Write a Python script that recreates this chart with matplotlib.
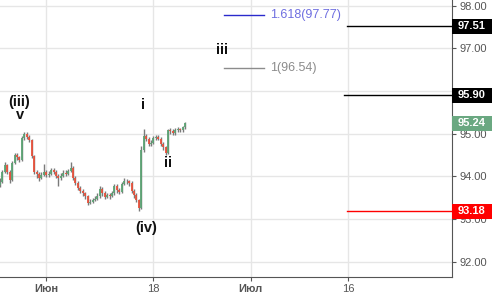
import numpy as np
import matplotlib
matplotlib.use("Agg")
import matplotlib.pyplot as plt
from matplotlib.patches import Rectangle
import matplotlib.transforms as mtransforms

plt.rcParams['font.family'] = ['Liberation Sans', 'DejaVu Sans']

# price data: 4 bars per trading day, day 0 = 1 June
start_day = -4.75
bar_step = 0.25
first_open = 93.80
closes = [93.87, 94.11, 94.27, 94.11, 93.92, 94.32, 94.50, 94.45, 94.39, 94.90,
          95.00, 94.93, 94.85, 94.48, 94.11, 94.06, 93.97, 94.04, 94.11, 94.04,
          94.06, 94.15, 94.11, 94.01, 93.97, 94.01, 94.08, 94.06, 94.13, 94.20,
          93.97, 93.85, 93.73, 93.66, 93.61, 93.54, 93.38, 93.40, 93.45, 93.47,
          93.54, 93.71, 93.61, 93.52, 93.57, 93.54, 93.61, 93.78, 93.68, 93.64,
          93.82, 93.89, 93.89, 93.85, 93.66, 93.57, 93.45, 93.26, 94.62, 94.95,
          94.88, 94.76, 94.78, 94.90, 94.93, 94.88, 94.76, 94.69, 94.55, 95.09,
          95.07, 95.02, 95.09, 95.11, 95.09, 95.16, 95.24]
highs = [93.95, 94.15, 94.33, 94.30, 94.15, 94.36, 94.55, 94.55, 94.48, 94.95,
         95.05, 95.03, 94.97, 94.88, 94.50, 94.15, 94.10, 94.10, 94.30, 94.15,
         94.12, 94.20, 94.20, 94.14, 94.05, 94.08, 94.14, 94.14, 94.18, 94.34,
         94.24, 94.00, 93.88, 93.78, 93.70, 93.63, 93.57, 93.47, 93.50, 93.55,
         93.60, 93.78, 93.75, 93.66, 93.62, 93.60, 93.66, 93.82, 93.83, 93.72,
         93.87, 93.95, 93.94, 93.92, 93.88, 93.70, 93.60, 93.48, 94.70, 95.10,
         95.00, 94.92, 94.84, 94.95, 94.98, 94.97, 94.92, 94.80, 94.72, 95.12,
         95.14, 95.10, 95.13, 95.16, 95.14, 95.19, 95.27]
lows = [93.75, 93.85, 94.08, 94.05, 93.85, 93.90, 94.28, 94.38, 94.33, 94.35,
        94.85, 94.88, 94.80, 94.42, 94.05, 93.95, 93.88, 93.94, 94.00, 93.98,
        93.99, 94.02, 94.06, 93.95, 93.78, 93.92, 93.98, 94.00, 94.02, 94.10,
        93.92, 93.80, 93.68, 93.60, 93.55, 93.48, 93.34, 93.35, 93.38, 93.42,
        93.44, 93.50, 93.55, 93.46, 93.50, 93.48, 93.52, 93.56, 93.62, 93.58,
        93.60, 93.80, 93.82, 93.78, 93.60, 93.50, 93.40, 93.18, 93.24, 94.58,
        94.82, 94.70, 94.72, 94.75, 94.86, 94.84, 94.70, 94.62, 94.50, 94.52,
        95.00, 94.96, 94.98, 95.05, 95.04, 95.05, 95.12]

# x axis ticks (trading-day index)
tick_days = [0, 11, 21, 31]
tick_labels = ["Июн", "18", "Июл", "16"]
price_ticks = [92, 93, 94, 95, 96, 97, 98]
price_tick_labels = ["92.00", "93.00", "94.00", "95.00", "", "97.00", "98.00"]

# levels
fib_levels = [97.77, 96.54]
fib_labels = ["1.618(97.77)", "1(96.54)"]
fib_colors = ["#2a2acc", "#8c8c8c"]
fib_text_colors = ["#6e6ee0", "#8c8c8c"]
fib_span = (18.2, 22.3)
hlines = [97.51, 95.90, 93.18]
hline_colors = ["black", "black", "#ff0000"]
hline_start = [30.9, 30.6, 30.9]
last_price = 95.24

wave_labels = [("(iii)", -2.8, 95.73), ("v", -2.7, 95.43), ("i", 9.9, 95.66),
               ("ii", 12.5, 94.31), ("(iv)", 10.3, 92.79), ("iii", 18.0, 96.96)]

closes = np.array(closes)
highs = np.array(highs)
lows = np.array(lows)
opens = np.concatenate([[first_open], closes[:-1]])
xs = start_day + bar_step * np.arange(len(closes))

fig = plt.figure(figsize=(4.97, 2.96), dpi=100)
ax = fig.add_axes([0, 19.3 / 296, 452.3 / 497, 1 - 19.3 / 296])
ax.set_xlim(-4.75, 41.68)
ax.set_ylim(91.65, 98.13)

# grid
ax.set_xticks(tick_days)
ax.set_xticklabels(tick_labels)
ax.set_yticks(price_ticks)
ax.set_yticklabels(price_tick_labels)
ax.grid(True, color="#e6e6e6", lw=1)
ax.set_axisbelow(True)

for s in ["left", "top"]:
    ax.spines[s].set_visible(False)
for s in ["right", "bottom"]:
    ax.spines[s].set_color("#555555")
ax.yaxis.tick_right()
ax.tick_params(axis="y", colors="#555555", labelsize=8, length=3, pad=2)
ax.tick_params(axis="x", colors="#555555", labelsize=8, length=3, pad=2)
for lbl in ax.get_xticklabels():
    lbl.set_color("#555555")
    if not lbl.get_text().isdigit():
        lbl.set_fontweight("bold")
for lbl in ax.get_yticklabels():
    lbl.set_color("#555555")

# candles
up = closes >= opens
ax.vlines(xs, lows, highs, color="#7a7a7a", lw=1, zorder=2)
ax.vlines(xs[up], opens[up], closes[up], color="#5ba374", lw=1.3, zorder=3)
ax.vlines(xs[~up], opens[~up], closes[~up], color="#e8513b", lw=1.3, zorder=3)

# fib levels
for lev, lab, col, tcol in zip(fib_levels, fib_labels, fib_colors, fib_text_colors):
    ax.plot(fib_span, [lev, lev], color=col, lw=1)
    ax.text(fib_span[1] + 0.7, lev, lab, color=tcol, fontsize=9, va="center", ha="left")

# horizontal levels with price boxes
trans = mtransforms.blended_transform_factory(ax.transAxes, ax.transData)
for lev, col, x0 in zip(hlines, hline_colors, hline_start):
    ax.plot([x0, 41.68], [lev, lev], color=col, lw=1, zorder=4)
box_levels = hlines + [last_price]
box_colors = ["black", "black", "#ff0000", "#6aa881"]
for lev, col in zip(box_levels, box_colors):
    ax.add_patch(Rectangle((1.0, lev - 0.18), 0.087, 0.36, transform=trans,
                           facecolor=col, edgecolor="none", clip_on=False, zorder=5))
    ax.text(1.0435, lev, "%.2f" % lev, transform=trans, color="white", fontsize=8,
            fontweight="bold", ha="center", va="center", zorder=6, clip_on=False)

# wave labels
for txt, x, y in wave_labels:
    ax.text(x, y, txt, fontsize=10.5, fontweight="bold", color="#111111",
            ha="center", va="center")

fig.savefig("out.png", dpi=100)
